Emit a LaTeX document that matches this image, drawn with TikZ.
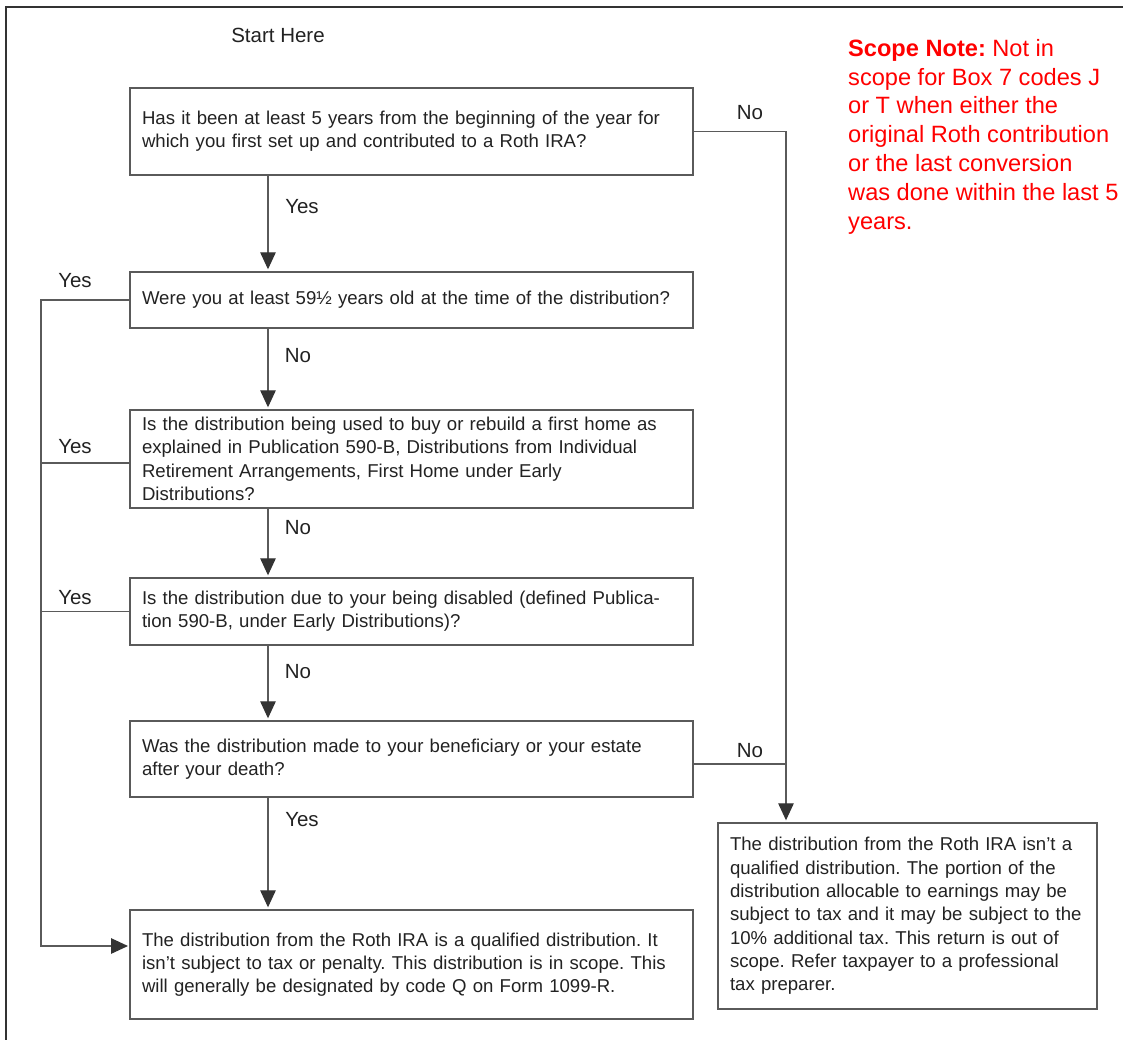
\documentclass[tikz,border=0pt]{standalone}
\usepackage{fontspec}
\setmainfont{Liberation Sans}
\usetikzlibrary{arrows.meta}
\definecolor{ln}{HTML}{5A5A5A}
\definecolor{tip}{HTML}{333333}
\definecolor{tx}{HTML}{222222}
\definecolor{scred}{HTML}{FF0000}
\frenchspacing
\tikzset{
  qbox/.style={draw=ln, line width=1.4pt, rectangle, inner xsep=12pt, inner ysep=0pt,
    align=left, text=tx, font=\fontsize{18.6}{23.3}\selectfont},
  conn/.style={draw=ln, line width=1.2pt},
  arr/.style={conn, -{Triangle[length=17pt,width=15.5pt,color=tip,fill=tip]}, shorten >=2pt},
  lbl/.style={text=tx, font=\fontsize{20.5}{24}\selectfont, inner sep=0pt},
}
\begin{document}
\begin{tikzpicture}[x=1pt,y=-1pt]
\useasboundingbox (0,0) rectangle (1123,1040);
% frame
\draw[line width=2.5pt, draw=black!80] (6,1045) -- (6,7) -- (1130,7);
% coordinates
\coordinate (mx) at (268,0);
\coordinate (rx) at (786,0);
\coordinate (lx) at (41,0);
\coordinate (b6in) at (130,946);
\coordinate (b5out) at (693,764);
\coordinate (b3out) at (130,463);
% start
\node[lbl] (start) at (278,35) {Start Here};
% boxes
\node[qbox, minimum width=563pt, minimum height=87pt, text width=539pt] (b1) at (411.5,131.5)
  {Has it been at least 5 years from the beginning of the year for\\which you first set up and contributed to a Roth IRA?};
\node[qbox, minimum width=563pt, minimum height=56pt, text width=539pt] (b2) at (411.5,300)
  {Were you at least 59½ years old at the time of the distribution?};
\node[qbox, minimum width=563pt, minimum height=98pt, text width=539pt] (b3) at (411.5,459)
  {Is the distribution being used to buy or rebuild a first home as\\explained in Publication 590-B, Distributions from Individual\\Retirement Arrangements, First Home under Early\\Distributions?};
\node[qbox, minimum width=563pt, minimum height=67pt, text width=539pt] (b4) at (411.5,611.5)
  {Is the distribution due to your being disabled (defined Publica-\\tion 590-B, under Early Distributions)?};
\node[qbox, minimum width=563pt, minimum height=76pt, text width=539pt] (b5) at (411.5,759)
  {Was the distribution made to your beneficiary or your estate\\after your death?};
\node[qbox, minimum width=563pt, minimum height=109pt, text width=539pt] (b6) at (411.5,964.5)
  {The distribution from the Roth IRA is a qualified distribution. It\\isn’t subject to tax or penalty. This distribution is in scope. This\\will generally be designated by code Q on Form 1099-R.};
\node[qbox, minimum width=379pt, minimum height=186pt, text width=355pt] (b7) at (907.5,916)
  {The distribution from the Roth IRA isn’t a\\qualified distribution. The portion of the\\distribution allocable to earnings may be\\subject to tax and it may be subject to the\\10\% additional tax. This return is out of\\scope. Refer taxpayer to a professional\\tax preparer.};
% scope note
\node[anchor=north west, inner sep=0pt, align=left, text=scred, font=\fontsize{23.6}{28.8}\selectfont] (note) at (848,39)
  {\textbf{Scope Note:} Not in\\scope for Box 7 codes J\\or T when either the\\original Roth contribution\\or the last conversion\\was done within the last 5\\years.};
% main vertical arrows
\draw[arr] (b1.south -| mx) -- (b2.north -| mx);
\draw[arr] (b2.south -| mx) -- (b3.north -| mx);
\draw[arr] (b3.south -| mx) -- (b4.north -| mx);
\draw[arr] (b4.south -| mx) -- (b5.north -| mx);
\draw[arr] (b5.south -| mx) -- (b6.north -| mx);
\node[lbl] (l1) at (302,207) {Yes};
\node[lbl] (l2) at (298,356) {No};
\node[lbl] (l3) at (298,528) {No};
\node[lbl] (l4) at (298,672) {No};
\node[lbl] (l5) at (302,820) {Yes};
% right branch
\draw[arr] (b1.east) -- (b1.east -| rx) -- (rx |- b7.north);
\draw[conn] (b5out) -- (b5out -| rx);
\node[lbl] (r1) at (750,113) {No};
\node[lbl] (r2) at (750,751) {No};
% left branch
\draw[arr] (b2.west) -- (b2.west -| lx) -- (lx |- b6in) -- (b6in);
\draw[conn] (b3out) -- (b3out -| lx);
\draw[conn] (b4.west) -- (b4.west -| lx);
\node[lbl] (y1) at (75,281) {Yes};
\node[lbl] (y2) at (75,447) {Yes};
\node[lbl] (y3) at (75,598) {Yes};
\end{tikzpicture}
\end{document}
